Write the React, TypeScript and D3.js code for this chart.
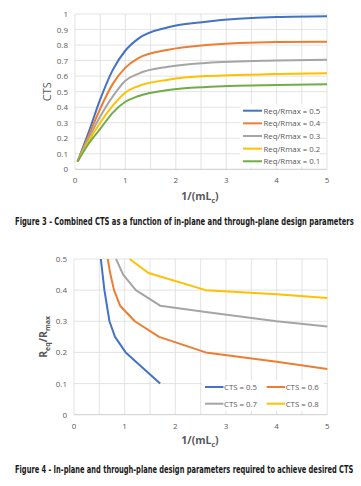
import React, { useRef, useEffect } from "react";
import * as d3 from "d3";

// Figure 3 data: CTS vs 1/(mLc)
const xCts = [0.05, 0.25, 0.5, 0.75, 1, 1.25, 1.85, 2.6, 4, 5];
const ctsSeries = [
  { name: "Req/Rmax = 0.5", color: "#4472C4", values: [0.05, 0.22, 0.45, 0.64, 0.765, 0.84, 0.915, 0.95, 0.98, 0.985] },
  { name: "Req/Rmax = 0.4", color: "#ED7D31", values: [0.05, 0.2, 0.39, 0.55, 0.655, 0.715, 0.77, 0.8, 0.82, 0.822] },
  { name: "Req/Rmax = 0.3", color: "#A5A5A5", values: [0.05, 0.185, 0.34, 0.47, 0.57, 0.615, 0.66, 0.685, 0.7, 0.705] },
  { name: "Req/Rmax = 0.2", color: "#FFC000", values: [0.05, 0.17, 0.3, 0.41, 0.495, 0.535, 0.577, 0.6, 0.613, 0.618] },
  { name: "Req/Rmax = 0.1", color: "#70AD47", values: [0.05, 0.155, 0.26, 0.365, 0.435, 0.47, 0.51, 0.53, 0.543, 0.548] },
];

// Figure 4 data: Req/Rmax vs 1/(mLc)
const reqSeries = [
  { name: "CTS = 0.5", color: "#4472C4", x: [0.53, 0.6, 0.7, 0.81, 1.02, 1.7], y: [0.5, 0.4, 0.3, 0.25, 0.2, 0.1] },
  { name: "CTS = 0.6", color: "#ED7D31", x: [0.665, 0.72, 0.79, 0.91, 1.2, 1.68, 2.6, 4, 5], y: [0.5, 0.45, 0.4, 0.35, 0.3, 0.25, 0.2, 0.17, 0.147] },
  { name: "CTS = 0.7", color: "#A5A5A5", x: [0.83, 0.97, 1.22, 1.7, 2.6, 4, 5], y: [0.5, 0.45, 0.4, 0.35, 0.33, 0.3, 0.283] },
  { name: "CTS = 0.8", color: "#FFC000", x: [1.1, 1.47, 2.6, 4, 5], y: [0.5, 0.455, 0.4, 0.387, 0.375] },
];

const xTicks = [0, 1, 2, 3, 4, 5];
const ctsTicks = [0, 0.1, 0.2, 0.3, 0.4, 0.5, 0.6, 0.7, 0.8, 0.9, 1];
const reqTicks = [0, 0.1, 0.2, 0.3, 0.4, 0.5];

const caption3 = "Figure 3 - Combined CTS as a function of in-plane and through-plane design parameters";
const caption4 = "Figure 4 - In-plane and through-plane design parameters required to achieve desired CTS";

const tickFont = "'Open Sans', 'Liberation Sans', sans-serif";
const capFont = "'DejaVu Sans Condensed', 'DejaVu Sans', sans-serif";
const gray = "#595959";

const App: React.FC = () => {
  const ref = useRef<SVGSVGElement | null>(null);

  useEffect(() => {
    if (!ref.current) return;
    const svg = d3.select(ref.current);
    svg.selectAll("*").remove();

    const drawFrame = (
      g: d3.Selection<SVGGElement, unknown, null, undefined>,
      x: d3.ScaleLinear<number, number>,
      y: d3.ScaleLinear<number, number>,
      yTicks: number[],
      fmt: (v: number) => string
    ) => {
      // gridlines every 0.5 on x, every tick on y
      const xGrid = d3.range(0, 5.01, 0.5);
      g.selectAll(".vg")
        .data(xGrid)
        .enter()
        .append("line")
        .attr("x1", (d) => x(d))
        .attr("x2", (d) => x(d))
        .attr("y1", y.range()[0])
        .attr("y2", y.range()[1])
        .attr("stroke", "#dcdcdc")
        .attr("stroke-width", 0.8);
      g.selectAll(".hg")
        .data(yTicks)
        .enter()
        .append("line")
        .attr("x1", x.range()[0])
        .attr("x2", x.range()[1])
        .attr("y1", (d) => y(d))
        .attr("y2", (d) => y(d))
        .attr("stroke", (d) => (d === 0 ? "#bfbfbf" : "#dcdcdc"))
        .attr("stroke-width", 0.8);

      g.selectAll(".yt")
        .data(yTicks)
        .enter()
        .append("text")
        .attr("x", x.range()[0] - 7)
        .attr("y", (d) => y(d) + 3)
        .attr("text-anchor", "end")
        .style("font-family", tickFont)
        .style("font-size", "8px")
        .style("fill", gray)
        .text(fmt);

      g.selectAll(".xt")
        .data(xTicks)
        .enter()
        .append("text")
        .attr("x", (d) => x(d))
        .attr("y", y.range()[0] + 14)
        .attr("text-anchor", "middle")
        .style("font-family", tickFont)
        .style("font-size", "8px")
        .style("fill", gray)
        .text((d) => String(d));
    };

    const xLabel = (g: d3.Selection<SVGGElement, unknown, null, undefined>, cx: number, cy: number) => {
      const t = g
        .append("text")
        .attr("x", cx)
        .attr("y", cy)
        .attr("text-anchor", "middle")
        .style("font-family", tickFont)
        .style("font-size", "10.5px")
        .style("font-weight", "bold")
        .style("fill", gray);
      t.append("tspan").text("1/(mL");
      t.append("tspan").attr("dy", 2.5).style("font-size", "7px").text("c");
      t.append("tspan").attr("dy", -2.5).text(")");
    };

    // captions use a narrow bold face; squeeze horizontally to the reference width
    const caption = (text: string, cy: number) => {
      const t = svg
        .append("text")
        .attr("x", 0)
        .attr("y", 0)
        .style("font-family", capFont)
        .style("font-size", "10px")
        .style("font-weight", "bold")
        .style("fill", "#1a1a1a")
        .text(text);
      const len = (t.node() as SVGTextElement).getComputedTextLength() || 339;
      t.attr("transform", `translate(15,${cy}) scale(${339 / len},1)`);
    };

    // ---------- Figure 3 ----------
    const g3 = svg.append("g");
    const x3 = d3.scaleLinear().domain([0, 5]).range([75, 327]);
    const y3 = d3.scaleLinear().domain([0, 1]).range([169.3, 14]);
    drawFrame(g3, x3, y3, ctsTicks, (d) => (d === 0 || d === 1 ? String(d) : d.toFixed(1)));

    const line3 = d3
      .line<number>()
      .x((_, i) => x3(xCts[i]))
      .y((d) => y3(d))
      .curve(d3.curveMonotoneX);

    ctsSeries.forEach((s) => {
      g3.append("path")
        .datum(s.values)
        .attr("d", line3)
        .attr("fill", "none")
        .attr("stroke", s.color)
        .attr("stroke-width", 2)
        .attr("stroke-linejoin", "round");
    });

    // legend
    const leg3 = g3.append("g");
    leg3.append("rect").attr("x", 240).attr("y", 104).attr("width", 80).attr("height", 63).attr("fill", "#fff");
    ctsSeries.forEach((s, i) => {
      const ly = 110.7 + i * 12.65;
      leg3.append("line").attr("x1", 243).attr("x2", 262).attr("y1", ly).attr("y2", ly).attr("stroke", s.color).attr("stroke-width", 2);
      leg3
        .append("text")
        .attr("x", 263.5)
        .attr("y", ly + 3)
        .style("font-family", tickFont)
        .style("font-size", "7.8px")
        .style("fill", gray)
        .text(s.name);
    });

    g3.append("text")
      .attr("transform", `translate(51,${y3(0.5)}) rotate(-90)`)
      .attr("text-anchor", "middle")
      .style("font-family", tickFont)
      .style("font-size", "11px")
      .style("fill", gray)
      .text("CTS");

    xLabel(g3, 200, 200);
    caption(caption3, 225);

    // ---------- Figure 4 ----------
    const g4 = svg.append("g");
    const x4 = d3.scaleLinear().domain([0, 5]).range([74, 327.3]);
    const y4 = d3.scaleLinear().domain([0, 0.5]).range([414.7, 259]);
    drawFrame(g4, x4, y4, reqTicks, (d) => (d === 0 ? "0" : d.toFixed(1)));

    reqSeries.forEach((s) => {
      const line4 = d3
        .line<number>()
        .x((d) => x4(d))
        .y((_, i) => y4(s.y[i]));
      g4.append("path")
        .datum(s.x)
        .attr("d", line4)
        .attr("fill", "none")
        .attr("stroke", s.color)
        .attr("stroke-width", 2)
        .attr("stroke-linejoin", "round");
    });

    const leg4 = g4.append("g");
    leg4.append("rect").attr("x", 202).attr("y", 380).attr("width", 122).attr("height", 31).attr("fill", "#fff");
    reqSeries.forEach((s, i) => {
      const col = i % 2;
      const row = Math.floor(i / 2);
      const lx = col === 0 ? 205 : 266.7;
      const ly = 387 + row * 16.7;
      leg4.append("line").attr("x1", lx).attr("x2", lx + 18.5).attr("y1", ly).attr("y2", ly).attr("stroke", s.color).attr("stroke-width", 2);
      leg4
        .append("text")
        .attr("x", lx + 19)
        .attr("y", ly + 3)
        .style("font-family", tickFont)
        .style("font-size", "7.8px")
        .style("fill", gray)
        .text(s.name);
    });

    const yl = g4
      .append("text")
      .attr("transform", `translate(47,${y4(0.25)}) rotate(-90)`)
      .attr("text-anchor", "middle")
      .style("font-family", tickFont)
      .style("font-size", "10.5px")
      .style("font-weight", "bold")
      .style("fill", gray);
    yl.append("tspan").text("R");
    yl.append("tspan").attr("dy", 2.5).style("font-size", "7px").text("eq");
    yl.append("tspan").attr("dy", -2.5).text("/R");
    yl.append("tspan").attr("dy", 2.5).style("font-size", "7px").text("max");

    xLabel(g4, 200, 444);
    caption(caption4, 473);
  }, []);

  return (
    <svg
      ref={ref}
      width={361}
      height={486}
      style={{ position: "absolute", left: 0, top: 0, background: "#fff" }}
    />
  );
};

export default App;
